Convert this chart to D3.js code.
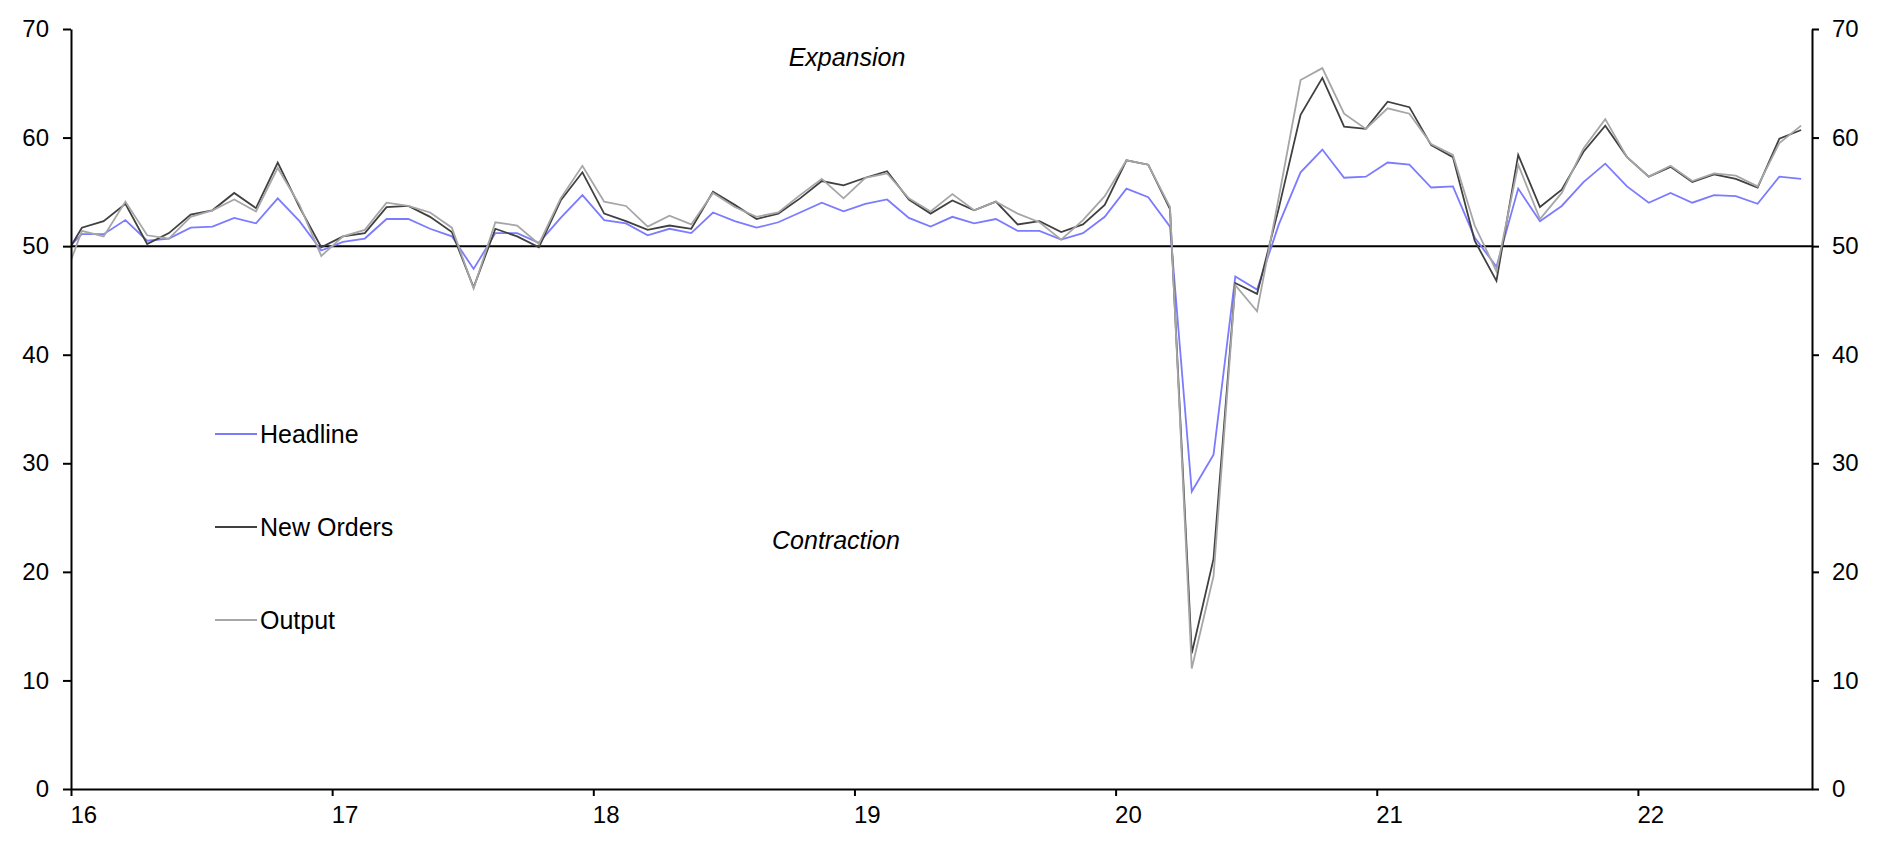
<!DOCTYPE html>
<html>
<head>
<meta charset="utf-8">
<script src="https://cdn.jsdelivr.net/npm/d3@7"></script>
<style>
  html, body { margin: 0; padding: 0; background: #fff; }
  svg { display: block; font-family: "Liberation Sans", Arial, sans-serif; }
</style>
</head>
<body>
<svg id="chart" width="1883" height="853"></svg>
<script>
// ---- Data (Dec 2015 .. Aug 2022, monthly) ----
const startMonth = "2015-12";
const headline = [49.1,
  51.1, 51.1, 52.4, 50.5, 50.7, 51.7, 51.8, 52.6, 52.1, 54.4, 52.3, 49.6,
  50.4, 50.7, 52.5, 52.5, 51.6, 50.9, 47.9, 51.2, 51.2, 50.3, 52.6, 54.7,
  52.4, 52.1, 51.0, 51.6, 51.2, 53.1, 52.3, 51.7, 52.2, 53.1, 54.0, 53.2,
  53.9, 54.3, 52.6, 51.8, 52.7, 52.1, 52.5, 51.4, 51.4, 50.6, 51.2, 52.7,
  55.3, 54.5, 51.8, 27.4, 30.8, 47.2, 46.0, 52.0, 56.8, 58.9, 56.3, 56.4,
  57.7, 57.5, 55.4, 55.5, 50.8, 48.1, 55.3, 52.3, 53.7, 55.9, 57.6, 55.5,
  54.0, 54.9, 54.0, 54.7, 54.6, 53.9, 56.4, 56.2];
const newOrders = [48.3,
  51.7, 52.3, 53.9, 50.2, 51.2, 52.9, 53.3, 54.9, 53.5, 57.7, 53.6, 49.9,
  50.9, 51.2, 53.6, 53.7, 52.7, 51.3, 46.2, 51.6, 50.9, 49.9, 54.2, 56.8,
  53.0, 52.3, 51.5, 51.9, 51.6, 55.0, 53.8, 52.5, 53.0, 54.4, 56.0, 55.6,
  56.3, 56.9, 54.3, 53.0, 54.2, 53.3, 54.1, 52.0, 52.3, 51.3, 52.0, 53.8,
  57.9, 57.5, 53.4, 12.5, 21.2, 46.6, 45.6, 53.5, 62.1, 65.5, 61.0, 60.8,
  63.3, 62.8, 59.3, 58.2, 50.5, 46.8, 58.4, 53.6, 55.2, 58.7, 61.1, 58.2,
  56.4, 57.3, 55.9, 56.6, 56.2, 55.4, 59.9, 60.7];
const output = [46.0,
  51.4, 50.9, 54.1, 51.0, 50.7, 52.7, 53.3, 54.3, 53.2, 57.2, 53.8, 49.1,
  50.9, 51.5, 54.0, 53.7, 53.1, 51.7, 46.1, 52.2, 51.9, 50.2, 54.4, 57.4,
  54.1, 53.7, 51.8, 52.8, 52.0, 54.9, 53.6, 52.7, 53.1, 54.7, 56.2, 54.4,
  56.3, 56.7, 54.4, 53.2, 54.8, 53.3, 54.1, 53.0, 52.2, 50.6, 52.4, 54.6,
  57.9, 57.5, 53.6, 11.1, 19.6, 46.4, 44.0, 54.5, 65.3, 66.4, 62.2, 60.8,
  62.7, 62.2, 59.4, 58.4, 51.9, 47.7, 57.5, 52.5, 54.9, 59.0, 61.7, 58.2,
  56.4, 57.4, 56.0, 56.7, 56.5, 55.5, 59.5, 61.1];
const seriesNames = ["Headline", "New Orders", "Output"];
const seriesColors = ["#7b7bff", "#404040", "#a6a6a6"];
const yTicks = [0, 10, 20, 30, 40, 50, 60, 70];
const xTickLabels = ["16", "17", "18", "19", "20", "21", "22"];
const annotations = ["Expansion", "Contraction"];

(function () {
  // ---- Layout ----
  const W = 1883, H = 853;
  const pLeft = 71, pRight = 1812, pTop = 29, pBottom = 789;
  const svg = d3.select("#chart");
  svg.append("rect").attr("width", W).attr("height", H).attr("fill", "#fff");

  // x: months since Jan 2016 (points sit mid-month)
  const x = d3.scaleLinear().domain([0, 80]).range([pLeft, pRight]);
  const y = d3.scaleLinear().domain([0, 70]).range([pBottom, pTop]);
  const monthPos = i => i - 1 + 0.5; // index 0 = Dec 2015

  svg.append("defs").append("clipPath").attr("id", "plot")
    .append("rect").attr("x", pLeft).attr("y", pTop - 2)
    .attr("width", pRight - pLeft).attr("height", pBottom - pTop + 4);

  // 50 line
  svg.append("line")
    .attr("x1", pLeft).attr("x2", pRight)
    .attr("y1", y(50)).attr("y2", y(50))
    .attr("stroke", "#000").attr("stroke-width", 2);

  // series
  const allSeries = [headline, newOrders, output];
  const line = d3.line().x((d, i) => x(monthPos(i))).y(d => y(d));
  const g = svg.append("g").attr("clip-path", "url(#plot)");
  allSeries.forEach((s, k) => {
    g.append("path").datum(s)
      .attr("d", line)
      .attr("fill", "none")
      .attr("stroke", seriesColors[k])
      .attr("stroke-width", 1.8)
      .attr("stroke-linejoin", "miter");
  });

  // axes
  const fontSize = 24;
  const yl = svg.append("g").attr("transform", `translate(${pLeft},0)`)
    .call(d3.axisLeft(y).tickValues(yTicks).tickSize(8).tickSizeOuter(0).tickPadding(14));
  const yr = svg.append("g").attr("transform", `translate(${pRight},0)`)
    .call(d3.axisRight(y).tickValues(yTicks).tickSize(7).tickSizeOuter(0).tickPadding(13));
  const xa = svg.append("g").attr("transform", `translate(0,${pBottom})`)
    .call(d3.axisBottom(x).tickValues(xTickLabels.map((d, i) => i * 12))
      .tickFormat((d, i) => xTickLabels[i]).tickSize(7).tickSizeOuter(0));
  xa.selectAll("text").attr("dy", null).attr("y", 34).attr("x", -1).attr("text-anchor", "start");

  [yl, yr, xa].forEach(a => {
    a.selectAll("path.domain").attr("stroke", "#000").attr("stroke-width", 2);
    a.selectAll(".tick line").attr("stroke", "#000").attr("stroke-width", 2);
    a.selectAll("text").attr("fill", "#000").attr("font-size", fontSize)
      .attr("font-family", '"Liberation Sans", Arial, sans-serif');
  });

  // annotations
  svg.append("text").text(annotations[0])
    .attr("x", 847).attr("y", 66).attr("text-anchor", "middle")
    .attr("font-style", "italic").attr("font-size", 25).attr("fill", "#000");
  svg.append("text").text(annotations[1])
    .attr("x", 836).attr("y", 549).attr("text-anchor", "middle")
    .attr("font-style", "italic").attr("font-size", 25).attr("fill", "#000");

  // legend
  const legendY = [434, 527, 620];
  seriesNames.forEach((n, k) => {
    svg.append("line")
      .attr("x1", 215).attr("x2", 257)
      .attr("y1", legendY[k]).attr("y2", legendY[k])
      .attr("stroke", seriesColors[k]).attr("stroke-width", 1.8);
    svg.append("text").text(n)
      .attr("x", 260).attr("y", legendY[k] + 9)
      .attr("font-size", 25).attr("fill", "#000");
  });
})();
</script>
</body>
</html>
